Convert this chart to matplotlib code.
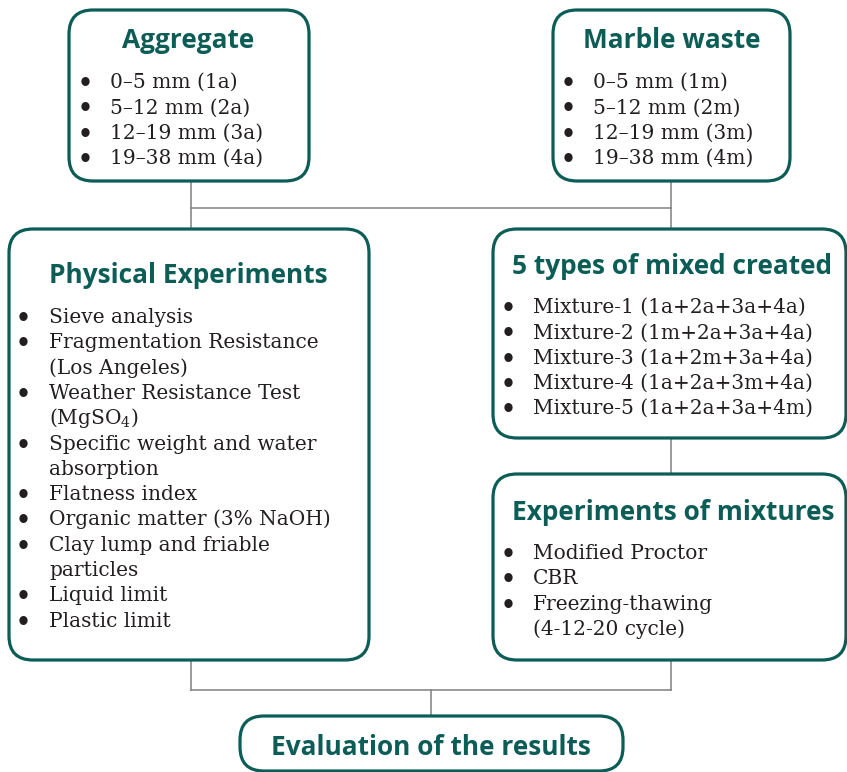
import matplotlib.pyplot as plt
from matplotlib.patches import FancyBboxPatch

plt.rcParams['mathtext.fontset'] = 'dejavuserif'

teal = '#0b5d56'
ink = '#231f20'
grey = '#808080'

# box contents
agg_title = 'Aggregate'
agg_items = ['0–5 mm (1a)', '5–12 mm (2a)', '12–19 mm (3a)', '19–38 mm (4a)']

marble_title = 'Marble waste'
marble_items = ['0–5 mm (1m)', '5–12 mm (2m)', '12–19 mm (3m)', '19–38 mm (4m)']

phys_title = 'Physical Experiments'
phys_items = ['Sieve analysis',
              'Fragmentation Resistance\n(Los Angeles)',
              'Weather Resistance Test\n(MgSO$_4$)',
              'Specific weight and water\nabsorption',
              'Flatness index',
              'Organic matter (3% NaOH)',
              'Clay lump and friable\nparticles',
              'Liquid limit',
              'Plastic limit']

mix_title = '5 types of mixed created'
mix_items = ['Mixture-1 (1a+2a+3a+4a)',
             'Mixture-2 (1m+2a+3a+4a)',
             'Mixture-3 (1a+2m+3a+4a)',
             'Mixture-4 (1a+2a+3m+4a)',
             'Mixture-5 (1a+2a+3a+4m)']

mixexp_title = 'Experiments of mixtures'
mixexp_items = ['Modified Proctor', 'CBR', 'Freezing-thawing\n(4-12-20 cycle)']

eval_title = 'Evaluation of the results'

fig = plt.figure(figsize=(8.47, 7.72), dpi=100)
ax = fig.add_axes([0, 0, 1, 1])
ax.set_xlim(0, 847)
ax.set_ylim(772, 0)
ax.axis('off')

title_font = dict(family='Open Sans', weight='bold', size=18.9, color=teal)
body_font = dict(family='DejaVu Serif', size=14.5, color=ink)
dot_font = dict(family='DejaVu Sans', size=17, weight='bold', color=ink)
step = 25.3


def box(x0, y0, x1, y1):
    p = FancyBboxPatch((x0, y0), x1 - x0, y1 - y0,
                       boxstyle='round,pad=0,rounding_size=24',
                       fc='white', ec=teal, lw=2.3, zorder=2)
    ax.add_patch(p)


def bullets(items, xb, xt, y):
    for it in items:
        ax.text(xb, y + 3, '•', ha='center', va='baseline', zorder=3, **dot_font)
        for line in it.split('\n'):
            ax.text(xt, y, line, ha='left', va='baseline', zorder=3, **body_font)
            y += step


# connectors
ax.plot([191, 191], [181, 229], color=grey, lw=1.1, zorder=1)
ax.plot([671, 671], [181, 229], color=grey, lw=1.1, zorder=1)
ax.plot([191, 671], [208, 208], color=grey, lw=1.1, zorder=1)
ax.plot([671, 671], [438, 474], color=grey, lw=1.1, zorder=1)
ax.plot([191, 191], [660, 690], color=grey, lw=1.1, zorder=1)
ax.plot([671, 671], [660, 690], color=grey, lw=1.1, zorder=1)
ax.plot([191, 671], [690, 690], color=grey, lw=1.1, zorder=1)
ax.plot([431, 431], [690, 716], color=grey, lw=1.1, zorder=1)

# top boxes
box(69, 10, 309, 181)
ax.text(188, 48, agg_title, ha='center', va='baseline', zorder=3, **title_font)
bullets(agg_items, 85, 110, 88)

box(553, 10, 790, 181)
ax.text(672, 48, marble_title, ha='center', va='baseline', zorder=3, **title_font)
bullets(marble_items, 568, 593, 88)

# left column
box(9, 229, 369, 660)
ax.text(188, 283, phys_title, ha='center', va='baseline', zorder=3, **title_font)
bullets(phys_items, 23, 49, 323)

# right column
box(493, 229, 846, 438)
ax.text(672, 274, mix_title, ha='center', va='baseline', zorder=3, **title_font)
bullets(mix_items, 508, 533, 313)

box(493, 474, 846, 660)
ax.text(673, 520, mixexp_title, ha='center', va='baseline', zorder=3, **title_font)
bullets(mixexp_items, 508, 533, 559)

# bottom
box(240, 716, 623, 771)
ax.text(431, 755, eval_title, ha='center', va='baseline', zorder=3, **title_font)

fig.savefig('out.png', dpi=100)
